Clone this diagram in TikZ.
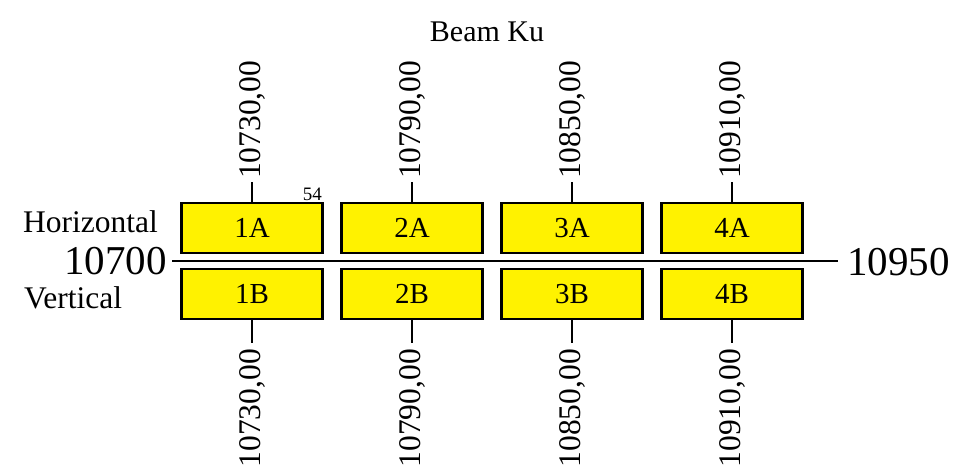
\documentclass[tikz,border=0pt]{standalone}
\usepackage{fontspec}
\setmainfont{Liberation Serif}
\begin{document}
\begin{tikzpicture}[x=1pt,y=-1pt,
  box/.style={draw=black, fill=yellow, line width=2.6pt, minimum width=141pt, minimum height=50pt, inner sep=0pt, font=\fontsize{29}{35}\selectfont},
  tick/.style={line width=2.6pt},
  axis/.style={line width=2.4pt},
  val/.style={rotate=90, inner sep=0pt, font=\fontsize{31.5}{37}\selectfont},
  lab/.style={inner sep=0pt, font=\fontsize{30}{36}\selectfont},
  side/.style={inner sep=0pt, font=\fontsize{31.5}{37}\selectfont},
  big/.style={inner sep=0pt, font=\fontsize{41}{48}\selectfont},
  small/.style={inner sep=0pt, font=\fontsize{19}{23}\selectfont}]
\fill[white] (0,0) rectangle (957,465);
\useasboundingbox (0,0) rectangle (957,465);

\node[lab, anchor=base] (title) at (487,42) {Beam Ku};
\node[side, anchor=base west] (hor) at (23,232) {Horizontal};
\node[side, anchor=base west] (ver) at (24,308) {Vertical};
\node[big, anchor=base east] (lo) at (167,274) {10700};
\node[big, anchor=base west] (hi) at (847,275) {10950};

\coordinate (L) at (172,261);
\coordinate (R) at (838,261);
\draw[axis] (L) -- (R);

\foreach \i/\x/\v in {1/252/10730,2/412/10790,3/572/10850,4/732/10910}{
  \node[box] (\i A) at (\x,228) {\i A};
  \node[box] (\i B) at (\x,294) {\i B};
  \coordinate (t\i) at (\x,182);
  \coordinate (b\i) at (\x,343);
  \draw[tick] (\i A.north) -- (t\i);
  \draw[tick] (\i B.south) -- (b\i);
  \node[val, anchor=west] (vt\i) at (\x,179) {\v,00};
  \node[val, anchor=east] (vb\i) at (\x,349) {\v,00};
}
\node[small, anchor=base east] (n54) at (322,200) {54};
\end{tikzpicture}
\end{document}
